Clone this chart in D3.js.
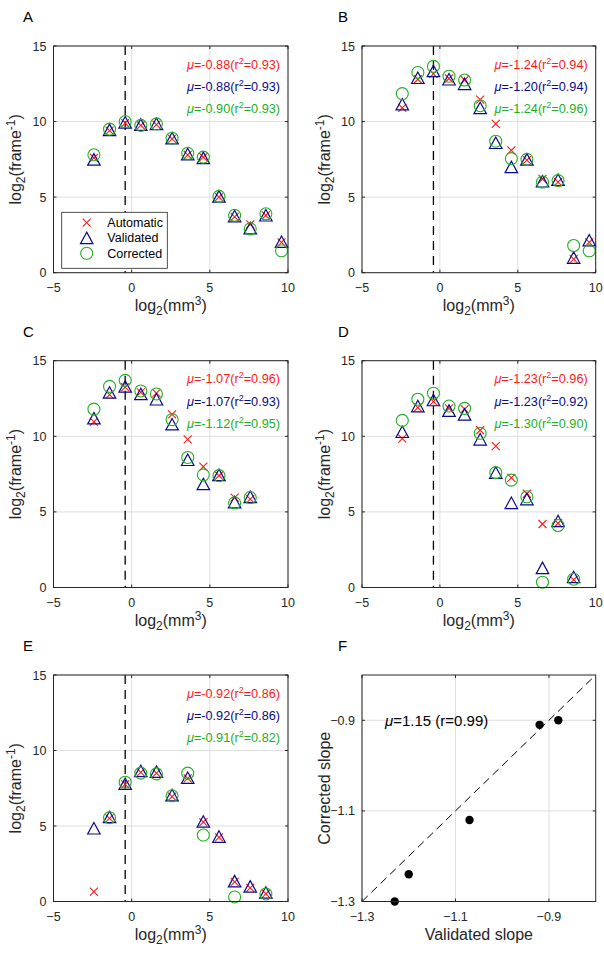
<!DOCTYPE html>
<html><head><meta charset="utf-8">
<script src="https://cdn.jsdelivr.net/npm/d3@7"></script>
<style>body{margin:0;background:#fff} svg{display:block} text{font-family:"Liberation Sans",Arial,Helvetica,sans-serif;fill:#262626}</style>
</head><body><svg id="c" width="604" height="964"></svg>
<script>
// ---------- data ----------
const binX = [-2.415,-1.415,-0.415,0.585,1.585,2.585,3.585,4.585,5.585,6.585,7.585,8.585,9.585];
const thresholdX = -0.415;
const xTicks = [-5,0,5,10];
const yTicks = [0,5,10,15];
const panelLetters = ["A","B","C","D","E","F"];

const autoA  = [7.6,9.4,9.9,9.75,9.8,8.85,7.8,7.65,5.0,3.7,3.2,3.8,2.0];
const validA = [7.5,9.45,9.95,9.8,9.85,8.9,7.85,7.6,5.05,3.75,2.95,3.8,2.05];
const corrA  = [7.8,9.5,10.0,9.75,9.85,8.9,7.9,7.65,5.05,3.8,2.9,3.9,1.45];

const autoB  = [10.9,12.8,13.15,12.85,12.75,11.45,9.85,8.1,7.45,6.2,6.0,0.9,2.0];
const validB = [11.15,12.9,13.35,12.8,12.5,10.9,8.6,7.0,7.5,6.05,6.15,1.0,2.15];
const corrB  = [11.85,13.25,13.65,13.0,12.75,11.05,8.7,7.55,7.5,6.0,6.1,1.8,1.45];

const autoC  = [10.95,12.75,13.25,12.9,12.85,11.45,9.8,8.0,7.4,5.95,5.85];
const validC = [11.2,12.9,13.3,12.8,12.45,10.8,8.45,6.85,7.45,5.65,6.0];
const corrC  = [11.8,13.3,13.7,13.0,12.8,11.1,8.6,7.45,7.4,5.6,5.95];

const autoD  = [9.85,11.9,12.3,11.85,11.8,10.4,9.35,7.25,6.2,4.2,4.25,0.5];
const validD = [10.3,12.0,12.4,11.7,11.45,9.8,7.6,5.6,5.85,1.3,4.4,0.7];
const corrD  = [11.05,12.45,12.85,12.0,11.85,10.2,7.6,7.1,6.0,0.35,4.1,0.55];

const autoE  = [0.65,5.5,7.75,8.55,8.5,6.95,8.15,5.25,4.25,1.3,0.9,0.5];
const validE = [4.85,5.6,7.8,8.65,8.6,7.05,8.2,5.3,4.3,1.35,1.0,0.6];
const corrE  = [null,5.55,7.9,8.5,8.45,7.0,8.5,4.4,null,0.3,null,0.5];

const muAuto  = [-0.88,-1.24,-1.07,-1.23,-0.92];
const r2Auto  = [0.93,0.94,0.96,0.96,0.86];
const muValid = [-0.88,-1.20,-1.07,-1.23,-0.92];
const r2Valid = [0.93,0.94,0.93,0.92,0.86];
const muCorr  = [-0.90,-1.24,-1.12,-1.30,-0.91];
const r2Corr  = [0.93,0.96,0.95,0.90,0.82];

const legendLabels = ["Automatic","Validated","Corrected"];

const slopeValidated = [-0.88,-1.20,-1.07,-1.23,-0.92];
const slopeCorrected = [-0.90,-1.24,-1.12,-1.30,-0.91];
const slopeTicks = [-1.3,-1.1,-0.9];
const slopeDomain = [-1.3,-0.8];
const slopeFitMu = 1.15, slopeFitR = 0.99;

// ---------- style / layout ----------
const RED="#ff1a1a", NAVY="#0a0a8a", GREEN="#22b022", AX="#262626", GRID="#dfdfdf";
const cols=[{x0:53.5,x1:288},{x0:362,x1:595.7}];
const rows=[{y0:46,y1:272.7},{y0:360.7,y1:587.5},{y0:675,y1:901.5}];
const svg=d3.select("#c");
const fmt = v => (v<0?"\u2212":"")+Math.abs(v).toString();

function axesFrame(g,x,y,xt,yt,tf){
  const [xa,xb]=x.range(), [ya,yb]=y.range(); // ya bottom
  g.append("g").selectAll("line").data(xt).join("line")
    .attr("x1",d=>x(d)).attr("x2",d=>x(d)).attr("y1",yb).attr("y2",ya)
    .attr("stroke",GRID).attr("stroke-width",1);
  g.append("g").selectAll("line").data(yt).join("line")
    .attr("y1",d=>y(d)).attr("y2",d=>y(d)).attr("x1",xa).attr("x2",xb)
    .attr("stroke",GRID).attr("stroke-width",1);
  return function finish(){
    g.append("rect").attr("x",xa).attr("y",yb).attr("width",xb-xa).attr("height",ya-yb)
      .attr("fill","none").attr("stroke",AX).attr("stroke-width",1);
    const tl=3;
    xt.forEach(d=>{
      g.append("line").attr("x1",x(d)).attr("x2",x(d)).attr("y1",ya).attr("y2",ya-tl).attr("stroke",AX);
      g.append("line").attr("x1",x(d)).attr("x2",x(d)).attr("y1",yb).attr("y2",yb+tl).attr("stroke",AX);
      g.append("text").attr("x",x(d)).attr("y",ya+19).attr("text-anchor","middle")
        .attr("font-size",12.5).text(tf(d));
    });
    yt.forEach(d=>{
      g.append("line").attr("y1",y(d)).attr("y2",y(d)).attr("x1",xa).attr("x2",xa+tl).attr("stroke",AX);
      g.append("line").attr("y1",y(d)).attr("y2",y(d)).attr("x1",xb).attr("x2",xb-tl).attr("stroke",AX);
      g.append("text").attr("x",xa-7).attr("y",y(d)+4.5).attr("text-anchor","end")
        .attr("font-size",12.5).text(tf(d));
    });
  };
}

function drawX(g,cx,cy,s){
  g.append("path").attr("d",`M${cx-s},${cy-s}L${cx+s},${cy+s}M${cx-s},${cy+s}L${cx+s},${cy-s}`)
    .attr("stroke",RED).attr("stroke-width",1.1).attr("fill","none");
}
function drawTri(g,cx,cy,w,h){
  g.append("path").attr("d",`M${cx},${cy-h/2}L${cx+w/2},${cy+h/2}L${cx-w/2},${cy+h/2}Z`)
    .attr("stroke",NAVY).attr("stroke-width",1.2).attr("fill","none");
}
function drawCirc(g,cx,cy,r){
  g.append("circle").attr("cx",cx).attr("cy",cy).attr("r",r)
    .attr("stroke",GREEN).attr("stroke-width",1.1).attr("fill","none");
}

function fitLabel(g,xr,yy,color,mu,r2){
  const t=g.append("text").attr("x",xr).attr("y",yy).attr("text-anchor","end")
    .attr("font-size",12.7).style("fill",color);
  t.append("tspan").style("font-style","italic").style("fill",color).text("\u03bc");
  t.append("tspan").style("fill",color).text("="+mu.toFixed(2)+"(r");
  t.append("tspan").style("fill",color).attr("dy",-5).attr("font-size",9).text("2");
  t.append("tspan").style("fill",color).attr("dy",5).text("="+r2.toFixed(2)+")");
}

function ylabelLog(x,cy){
  const t=svg.append("text").attr("transform",`translate(${x},${cy}) rotate(-90)`)
    .attr("text-anchor","middle").attr("font-size",16);
  t.append("tspan").text("log");
  t.append("tspan").attr("dy",4).attr("font-size",12).text("2");
  t.append("tspan").attr("dy",-4).text("(frame");
  t.append("tspan").attr("dy",-6).attr("font-size",12).text("-1");
  t.append("tspan").attr("dy",6).text(")");
}
function xlabelLog(cx,y){
  const t=svg.append("text").attr("x",cx).attr("y",y).attr("text-anchor","middle").attr("font-size",16);
  t.append("tspan").text("log");
  t.append("tspan").attr("dy",4).attr("font-size",12).text("2");
  t.append("tspan").attr("dy",-4).text("(mm");
  t.append("tspan").attr("dy",-6).attr("font-size",12).text("3");
  t.append("tspan").attr("dy",6).text(")");
}

const panels=[
  [autoA,validA,corrA],[autoB,validB,corrB],[autoC,validC,corrC],
  [autoD,validD,corrD],[autoE,validE,corrE]
];

panels.forEach((p,i)=>{
  const c=cols[i%2], r=rows[Math.floor(i/2)];
  const x=d3.scaleLinear().domain([-5,10]).range([c.x0,c.x1]);
  const y=d3.scaleLinear().domain([0,15]).range([r.y1,r.y0]);
  const g=svg.append("g");
  const finish=axesFrame(g,x,y,xTicks,yTicks,fmt);
  g.append("line").attr("x1",x(thresholdX)).attr("x2",x(thresholdX)).attr("y1",r.y0).attr("y2",r.y1)
    .attr("stroke","#000").attr("stroke-width",1.3).attr("stroke-dasharray","9,6");
  const [a,v,co]=p;
  a.forEach((d,k)=>{ if(d!=null) drawX(g,x(binX[k]),y(d),4); });
  v.forEach((d,k)=>{ if(d!=null) drawTri(g,x(binX[k]),y(d),12.5,11.5); });
  co.forEach((d,k)=>{ if(d!=null) drawCirc(g,x(binX[k]),y(d),6); });
  fitLabel(g,c.x1-8,r.y0+22.5,RED,muAuto[i],r2Auto[i]);
  fitLabel(g,c.x1-8,r.y0+45,NAVY,muValid[i],r2Valid[i]);
  fitLabel(g,c.x1-8,r.y0+67,GREEN,muCorr[i],r2Corr[i]);
  finish();
  xlabelLog((c.x0+c.x1)/2,r.y1+38);
  ylabelLog(c.x0-32.5,(r.y0+r.y1)/2);
  if(i===0){
    const lg=svg.append("g");
    lg.append("rect").attr("x",61.7).attr("y",212.3).attr("width",105.6).attr("height",56)
      .attr("fill","#fff").attr("stroke",AX).attr("stroke-width",0.8);
    const ly=[222.7,237.9,253.3];
    drawX(lg,86.7,ly[0],4); drawTri(lg,86.7,ly[1],12.5,11.5); drawCirc(lg,86.7,ly[2],6);
    legendLabels.forEach((s,k)=>lg.append("text").attr("x",107.3).attr("y",ly[k]+4.5)
      .attr("font-size",12.5).style("fill","#000").text(s));
  }
});

// Panel F
{
  const c=cols[1], r=rows[2];
  const x=d3.scaleLinear().domain(slopeDomain).range([c.x0,c.x1]);
  const y=d3.scaleLinear().domain(slopeDomain).range([r.y1,r.y0]);
  const g=svg.append("g");
  const finish=axesFrame(g,x,y,slopeTicks,slopeTicks,d=>fmt(+d.toFixed(1)));
  g.append("line").attr("x1",x(slopeDomain[0])).attr("y1",y(slopeDomain[0]))
    .attr("x2",x(slopeDomain[1])).attr("y2",y(slopeDomain[1]))
    .attr("stroke","#000").attr("stroke-width",1).attr("stroke-dasharray","8,5");
  slopeValidated.forEach((d,k)=>g.append("circle").attr("cx",x(d)).attr("cy",y(slopeCorrected[k]))
    .attr("r",4.2).attr("fill","#000"));
  const t=g.append("text").attr("x",385).attr("y",y(-0.9)+6).attr("font-size",15).style("fill","#000");
  t.append("tspan").style("font-style","italic").text("\u03bc");
  t.append("tspan").text("="+slopeFitMu.toFixed(2)+" (r="+slopeFitR.toFixed(2)+")");
  finish();
  svg.append("text").attr("x",(c.x0+c.x1)/2).attr("y",r.y1+38).attr("text-anchor","middle")
    .attr("font-size",16).text("Validated slope");
  svg.append("text").attr("transform",`translate(${c.x0-32.5},${(r.y0+r.y1)/2}) rotate(-90)`)
    .attr("text-anchor","middle").attr("font-size",16).text("Corrected slope");
}

// panel letters
panelLetters.forEach((L,i)=>{
  const c=cols[i%2], r=rows[Math.floor(i/2)];
  svg.append("text").attr("x", i%2===0 ? 23 : 338).attr("y",r.y0-24)
    .attr("font-size",15).style("fill","#000").text(L);
});
</script></body></html>
